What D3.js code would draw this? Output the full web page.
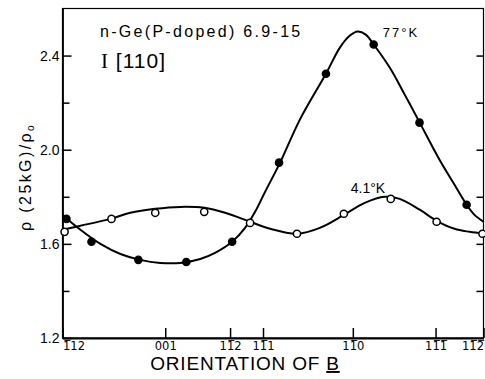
<!DOCTYPE html>
<html>
<head>
<meta charset="utf-8">
<script src="https://cdn.jsdelivr.net/npm/d3@7"></script>
<style>
  body { margin: 0; background: #fff; }
  svg { display: block; font-family: "Liberation Sans", Arial, sans-serif; }
  .axis path, .axis line { stroke: #000; }
</style>
</head>
<body>
<div id="chart"></div>
<script>
// angle of B measured from [001] (degrees, as drawn on the original axis)
var xTickValues = [-49.3, 0, 31.1, 46.9, 90, 129.7, 152.7];
var xTickLabels = ["1\u030512", "001", "11\u03052", "11\u03051", "11\u03050", "11\u03051\u0305", "11\u03052\u0305"];
var yTickValues = [1.2, 1.4, 1.6, 1.8, 2.0, 2.2, 2.4];

// measured points, 77 K (filled)
var angle77 = [-47.4, -35.4, -12.9, 10.1, 32.1, 54.6, 77.1, 100.0, 122.0, 144.6];
var rho77 = [1.706, 1.609, 1.532, 1.523, 1.609, 1.945, 2.323, 2.447, 2.115, 1.766];

// measured points, 4.1 K (open)
var angle41 = [-48.3, -25.8, -4.8, 18.7, 40.7, 63.2, 85.7, 108.2, 130.2, 152.2];
var rho41 = [1.651, 1.706, 1.732, 1.736, 1.689, 1.643, 1.728, 1.791, 1.694, 1.643];

// hand-drawn smooth curves
var fitAngle77 = [-49.3, -40.7, -31.1, -21.5, -12, -2.4, 7.2, 16.8, 23.9, 32.1, 38.3, 43.1, 47.9, 55.1, 64.6, 77.1, 83.8, 88.6, 92.4, 96.2, 100, 107.7, 114.9, 122.1, 131.6, 138.8, 144.6, 148.4, 152.7];
var fitRho77 = [1.723, 1.66, 1.6, 1.557, 1.532, 1.519, 1.519, 1.536, 1.562, 1.609, 1.668, 1.736, 1.821, 1.945, 2.128, 2.323, 2.434, 2.485, 2.502, 2.489, 2.447, 2.349, 2.234, 2.115, 1.957, 1.851, 1.766, 1.723, 1.694];

var fitAngle41 = [-49.3, -40.7, -26.3, -16.8, -4.8, 7.2, 18.7, 28.7, 40.7, 50.3, 63.2, 74.2, 85.7, 95.7, 105.3, 112.5, 122.1, 130.2, 138.8, 146, 152.7];
var fitRho41 = [1.66, 1.677, 1.706, 1.732, 1.749, 1.757, 1.753, 1.732, 1.694, 1.664, 1.643, 1.668, 1.723, 1.774, 1.8, 1.791, 1.745, 1.698, 1.664, 1.651, 1.643];

var width = 485,
  height = 379,
  margin = { top: 8.5, right: 1, bottom: 41, left: 62.5 };

var svg = d3.select("#chart").append("svg")
  .attr("width", width)
  .attr("height", height);

var x = d3.scaleLinear()
  .domain([xTickValues[0], xTickValues[xTickValues.length - 1]])
  .range([margin.left, width - margin.right - 0.5]);

var y = d3.scaleLinear()
  .domain([1.2, 2.6])
  .range([height - margin.bottom, margin.top]);

// frame
svg.append("rect")
  .attr("x", x.range()[0])
  .attr("y", y(2.6))
  .attr("width", x.range()[1] - x.range()[0])
  .attr("height", y(1.2) - y(2.6))
  .attr("fill", "none")
  .attr("stroke", "#000")
  .attr("stroke-width", 1.2);

// left axis, ticks pointing inward
var gy = svg.append("g")
  .attr("class", "axis")
  .attr("transform", "translate(" + x.range()[0] + ",0)")
  .call(d3.axisLeft(y)
    .tickValues(yTickValues)
    .tickSizeInner(-9)
    .tickSizeOuter(0)
    .tickPadding(3)
    .tickFormat(function (d) {
      return Math.round(d * 10) % 4 == 0 ? d.toFixed(1) : "";
    }));
gy.select(".domain").attr("stroke-width", 1.8);
gy.selectAll(".tick line")
  .attr("stroke-width", 1.5)
  .attr("x2", function (d) { return Math.round(d * 10) % 4 == 0 ? 9 : 7; });
gy.selectAll("text")
  .attr("font-size", 14)
  .attr("font-family", "Liberation Sans, Arial, sans-serif")
  .attr("fill", "#000");

// right axis, inner ticks only
var gr = svg.append("g")
  .attr("class", "axis")
  .attr("transform", "translate(" + x.range()[1] + ",0)")
  .call(d3.axisRight(y)
    .tickValues(yTickValues.slice(1))
    .tickSizeInner(-7)
    .tickSizeOuter(0)
    .tickFormat(""));
gr.select(".domain").remove();
gr.selectAll(".tick line").attr("stroke-width", 1.5);

// bottom axis
var gx = svg.append("g")
  .attr("class", "axis")
  .attr("transform", "translate(0," + y.range()[0] + ")")
  .call(d3.axisBottom(x)
    .tickValues(xTickValues)
    .tickSizeInner(-10)
    .tickSizeOuter(0)
    .tickPadding(3.5)
    .tickFormat(function (d, i) { return xTickLabels[i]; }));
gx.select(".domain").attr("stroke-width", 1.8);
gx.selectAll(".tick line").attr("stroke-width", 1.5);
gx.selectAll("text")
  .attr("font-size", 11.5)
  .attr("font-family", "DejaVu Sans, sans-serif")
  .attr("fill", "#000")
  .attr("text-anchor", function (d, i) {
    if (i == 0) return "start";
    if (i == xTickValues.length - 1) return "end";
    return "middle";
  });

// curves
var line = d3.line()
  .x(function (d) { return x(d[0]); })
  .y(function (d) { return y(d[1]); })
  .curve(d3.curveCatmullRom.alpha(0.5));

svg.append("path")
  .datum(d3.zip(fitAngle77, fitRho77))
  .attr("d", line)
  .attr("fill", "none")
  .attr("stroke", "#000")
  .attr("stroke-width", 2);

svg.append("path")
  .datum(d3.zip(fitAngle41, fitRho41))
  .attr("d", line)
  .attr("fill", "none")
  .attr("stroke", "#000")
  .attr("stroke-width", 2);

// points
svg.selectAll("circle.p77")
  .data(d3.zip(angle77, rho77))
  .enter()
  .append("circle")
  .attr("class", "p77")
  .attr("cx", function (d) { return x(d[0]); })
  .attr("cy", function (d) { return y(d[1]); })
  .attr("r", 4.3)
  .attr("fill", "#000");

svg.selectAll("circle.p41")
  .data(d3.zip(angle41, rho41))
  .enter()
  .append("circle")
  .attr("class", "p41")
  .attr("cx", function (d) { return x(d[0]); })
  .attr("cy", function (d) { return y(d[1]); })
  .attr("r", 3.6)
  .attr("fill", "#fff")
  .attr("stroke", "#000")
  .attr("stroke-width", 1.5);

// labels
svg.append("text")
  .attr("x", 100)
  .attr("y", 37)
  .attr("font-size", 16)
  .attr("letter-spacing", 2.3)
  .text("n-Ge(P-doped) 6.9-15");

var t2 = svg.append("text")
  .attr("x", 101)
  .attr("y", 68)
  .attr("font-size", 21)
  .attr("letter-spacing", 1);
t2.append("tspan").attr("font-family", "Liberation Serif, serif").text("I");
t2.append("tspan").text(" [110]");

svg.append("text")
  .attr("x", x(104.4))
  .attr("y", 37)
  .attr("font-size", 13)
  .attr("letter-spacing", 2)
  .text("77°K");

svg.append("text")
  .attr("x", x(89))
  .attr("y", 193)
  .attr("font-size", 14)
  .text("4.1°K");

var xl = svg.append("text")
  .attr("x", 245)
  .attr("y", 370)
  .attr("text-anchor", "middle")
  .attr("font-size", 19)
  .attr("letter-spacing", 0.8)
  .text("ORIENTATION OF ");
xl.append("tspan").attr("text-decoration", "underline").text("B");

var yl = svg.append("text")
  .attr("transform", "translate(31,177) rotate(-90)")
  .attr("text-anchor", "middle")
  .attr("font-size", 16)
  .attr("letter-spacing", 2.4);
yl.append("tspan").text("ρ (25kG)/ρ");
yl.append("tspan").attr("font-size", 10).attr("dy", 3).text("o");
</script>
</body>
</html>
